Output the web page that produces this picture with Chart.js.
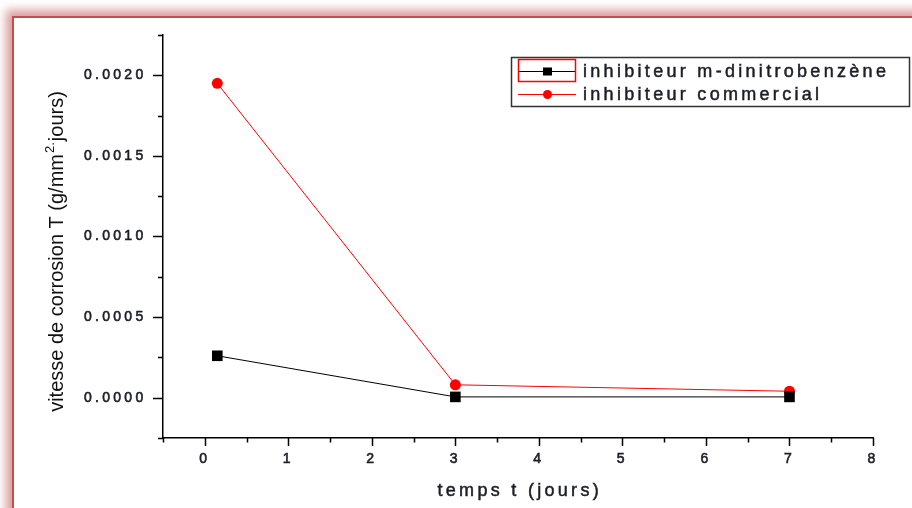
<!DOCTYPE html>
<html><head><meta charset="utf-8">
<script src="https://cdn.jsdelivr.net/npm/chart.js@4"></script>
<style>
html,body{margin:0;padding:0;background:#fff;overflow:hidden;width:912px;height:508px;position:relative}
#frame{position:absolute;left:12px;top:16px;width:1000px;height:600px;background:#fff;border-left:2px solid #c0504d;border-top:2px solid #c0504d;box-shadow:0 0 9px 6px rgba(200,95,95,0.62);}
#c{position:absolute;left:0;top:0}
</style></head><body>
<div id="frame"></div>
<canvas id="c" width="912" height="508"></canvas>
<script>
// ---- data ----
const timeDays = [0.15, 3, 7];
const mDinitrobenzene = [0.00026, 0.000005, 0.000005];
const commercial = [0.00195, 0.00008, 0.00004];
const xTickValues = [0, 1, 2, 3, 4, 5, 6, 7, 8];
const yTickValues = [0, 0.0005, 0.0010, 0.0015, 0.0020];
const seriesLabels = ['inhibiteur m-dinitrobenzène', 'inhibiteur commercial'];
const xTitle = 'temps t (jours)';
const yTitleParts = ['vitesse de corrosion T (g/mm', '2.', 'jours)'];

const FONT = '"Liberation Sans", Arial, sans-serif';
const SPACING = '3.3px';
const TEXT = '#1e1e28';

function minorValues(majors, lo, hi) {
  const step = majors[1] - majors[0];
  const out = [];
  for (let v = majors[0] - step / 2; v <= hi + 1e-12; v += step) {
    if (v >= lo - 1e-12) out.push(v);
  }
  return out;
}

function boldText(ctx, txt, x, y, w) {
  ctx.lineWidth = w;
  ctx.strokeStyle = ctx.fillStyle;
  ctx.fillText(txt, x, y);
  ctx.strokeText(txt, x, y);
}

const decorPlugin = {
  id: 'decor',
  beforeDraw(chart) {
    chart.ctx.letterSpacing = SPACING;
  },
  afterDraw(chart) {
    const ctx = chart.ctx;
    const xs = chart.scales.x, ys = chart.scales.y;
    const ca = chart.chartArea;
    ctx.save();
    ctx.strokeStyle = '#000';
    ctx.lineWidth = 1.5;
    ctx.beginPath();
    xTickValues.forEach(v => {
      const px = Math.round(xs.getPixelForValue(v)) + 0.5;
      ctx.moveTo(px, ca.bottom); ctx.lineTo(px, ca.bottom + 8);
    });
    minorValues(xTickValues, xs.min, xs.max).forEach(v => {
      const px = Math.round(xs.getPixelForValue(v)) + 0.5;
      ctx.moveTo(px, ca.bottom); ctx.lineTo(px, ca.bottom + 4.5);
    });
    yTickValues.forEach(v => {
      const py = Math.round(ys.getPixelForValue(v)) + 0.5;
      ctx.moveTo(ca.left, py); ctx.lineTo(ca.left - 10, py);
    });
    minorValues(yTickValues, ys.min, ys.max).forEach(v => {
      const py = Math.round(ys.getPixelForValue(v)) + 0.5;
      ctx.moveTo(ca.left, py); ctx.lineTo(ca.left - 5, py);
    });
    ctx.stroke();

    // x title
    ctx.letterSpacing = SPACING;
    ctx.fillStyle = TEXT;
    ctx.font = '18px ' + FONT;
    ctx.textAlign = 'center';
    ctx.textBaseline = 'alphabetic';
    boldText(ctx, xTitle, (ca.left + ca.right) / 2 + 1.75, 496, 0.5);

    // y title (rotated, with superscript)
    ctx.letterSpacing = '0px';
    ctx.textAlign = 'left';
    const big = '20px ' + FONT, small = '13px ' + FONT;
    ctx.font = big; const w1 = ctx.measureText(yTitleParts[0]).width;
    ctx.font = small; const w2 = ctx.measureText(yTitleParts[1]).width;
    ctx.font = big; const w3 = ctx.measureText(yTitleParts[2]).width;
    const total = w1 + w2 + w3 + 2;
    ctx.save();
    ctx.translate(63, 251.5);
    ctx.rotate(-Math.PI / 2);
    let x0 = -total / 2;
    ctx.fillStyle = '#111';
    ctx.font = big; ctx.fillText(yTitleParts[0], x0, 0);
    ctx.font = small; ctx.fillText(yTitleParts[1], x0 + w1 + 1, -9);
    ctx.font = big; ctx.fillText(yTitleParts[2], x0 + w1 + w2 + 2, 0);
    ctx.restore();

    // legend
    const L = 511.5, T = 57.5, W = 398, H = 49;
    ctx.lineWidth = 1.5;
    ctx.strokeStyle = '#333';
    ctx.strokeRect(L, T, W, H);
    const rows = [71, 94];
    const baselines = [77, 100];
    chart.data.datasets.forEach((ds, i) => {
      const y = rows[i];
      ctx.strokeStyle = ds.borderColor;
      ctx.lineWidth = 1;
      ctx.beginPath();
      ctx.moveTo(518, y + 0.5); ctx.lineTo(576, y + 0.5);
      ctx.stroke();
      ctx.fillStyle = ds.backgroundColor;
      if (ds.pointStyle === 'rect') {
        ctx.fillRect(543, y - 3.5, 9, 8);
      } else {
        ctx.beginPath(); ctx.arc(547.5, y + 0.5, 4.5, 0, Math.PI * 2); ctx.fill();
      }
      ctx.fillStyle = TEXT;
      ctx.font = '18px ' + FONT;
      ctx.letterSpacing = SPACING;
      boldText(ctx, ds.label, 583, baselines[i], 0.5);
    });
    ctx.strokeStyle = '#ff0000';
    ctx.lineWidth = 1.5;
    ctx.strokeRect(518.5, 59.5, 57, 22);
    ctx.restore();
  }
};

new Chart(document.getElementById('c').getContext('2d'), {
  type: 'line',
  data: {
    datasets: [
      {
        label: seriesLabels[0],
        data: timeDays.map((t, i) => ({x: t, y: mDinitrobenzene[i]})),
        borderColor: '#000000', backgroundColor: '#000000',
        borderWidth: 1, pointStyle: 'rect', pointRadius: 7.5, pointBorderWidth: 0,
        tension: 0, order: 0
      },
      {
        label: seriesLabels[1],
        data: timeDays.map((t, i) => ({x: t, y: commercial[i]})),
        borderColor: '#ff0000', backgroundColor: '#ff0000',
        borderWidth: 1, pointStyle: 'circle', pointRadius: 5.5, pointBorderWidth: 0,
        tension: 0, order: 1
      }
    ]
  },
  options: {
    responsive: false, animation: false, devicePixelRatio: 1,
    layout: {padding: {left: 0, top: 35, right: 39, bottom: 0}},
    plugins: {legend: {display: false}, tooltip: {enabled: false}},
    scales: {
      x: {
        type: 'linear', min: -0.5, max: 8,
        afterFit(s) { s.height = 70; },
        afterBuildTicks(s) { s.ticks = xTickValues.map(v => ({value: v})); },
        grid: {display: true, drawOnChartArea: false, drawTicks: false},
        border: {display: true, color: '#000', width: 1.5},
        ticks: {padding: 13, color: TEXT, textStrokeColor: TEXT, textStrokeWidth: 0.6,
          font: {family: FONT, size: 14}, autoSkip: false, maxRotation: 0,
          callback: v => String(v)}
      },
      y: {
        type: 'linear', min: -0.00025, max: 0.00225,
        afterFit(s) { s.width = 163; },
        afterBuildTicks(s) { s.ticks = yTickValues.map(v => ({value: v})); },
        grid: {display: true, drawOnChartArea: false, drawTicks: false},
        border: {display: true, color: '#000', width: 1.5},
        ticks: {padding: 16.5, color: TEXT, textStrokeColor: TEXT, textStrokeWidth: 0.6,
          font: {family: FONT, size: 14}, autoSkip: false,
          callback: v => Number(v).toFixed(4)}
      }
    }
  },
  plugins: [decorPlugin]
});
</script>
</body></html>
